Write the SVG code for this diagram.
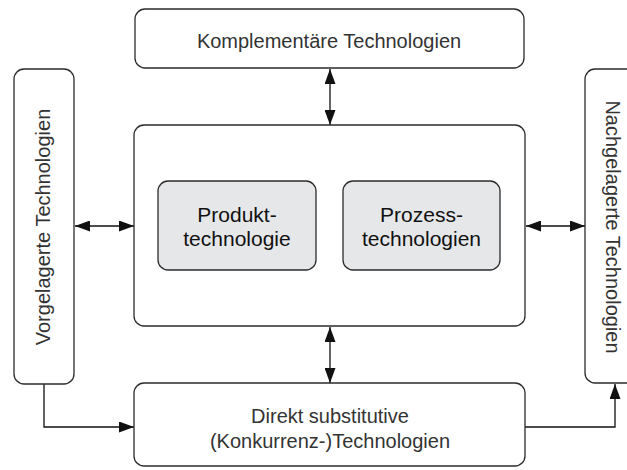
<svg xmlns="http://www.w3.org/2000/svg" width="627" height="470" viewBox="0 0 627 470">
<defs>
<style>
.box{fill:#fff;stroke:#2b2b2b;stroke-width:1.3}
.inner{fill:#e6e7e9;stroke:#2b2b2b;stroke-width:1.3}
.lbl{font-family:"Liberation Sans",Arial,sans-serif;font-size:20px;fill:#333;text-anchor:middle}
.in{font-family:"Liberation Sans",Arial,sans-serif;font-size:21px;fill:#111;text-anchor:middle}
.con{fill:none;stroke:#111;stroke-width:1.3}
</style>
<marker id="ah" viewBox="0 0 15 11" refX="15" refY="5.5" markerWidth="15" markerHeight="11" markerUnits="userSpaceOnUse" orient="auto-start-reverse">
<path d="M0,0 L15,5.5 L0,11 Z" fill="#111"/>
</marker>
</defs>
<g id="connectors">
<line class="con" x1="330" y1="69" x2="330" y2="125" marker-start="url(#ah)" marker-end="url(#ah)"/>
<line class="con" x1="330" y1="327" x2="330" y2="383" marker-start="url(#ah)" marker-end="url(#ah)"/>
<line class="con" x1="75" y1="226" x2="134" y2="226" marker-start="url(#ah)" marker-end="url(#ah)"/>
<line class="con" x1="526" y1="226" x2="585" y2="226" marker-start="url(#ah)" marker-end="url(#ah)"/>
<polyline class="con" points="44,384 44,427 134,427" marker-end="url(#ah)"/>
<polyline class="con" points="525,427 615,427 615,384" marker-end="url(#ah)"/>
</g>
<g id="komplementaer">
<rect class="box" x="135" y="9" width="389" height="59" rx="10"/>
<text class="lbl" x="329" y="48">Komplementäre Technologien</text>
</g>
<g id="vorgelagert">
<rect class="box" x="14" y="69" width="60" height="315" rx="10"/>
<text class="lbl" transform="translate(50,227) rotate(-90)">Vorgelagerte Technologien</text>
</g>
<g id="nachgelagert">
<rect class="box" x="585" y="69" width="60" height="314" rx="10"/>
<text class="lbl" transform="translate(606,227) rotate(90)">Nachgelagerte Technologien</text>
</g>
<g id="zentrum">
<rect class="box" x="134" y="125" width="391" height="201" rx="10"/>
</g>
<g id="produkt">
<rect class="inner" x="158" y="181" width="158" height="89" rx="10"/>
<text class="in" x="237" y="222">Produkt-</text>
<text class="in" x="237" y="246">technologie</text>
</g>
<g id="prozess">
<rect class="inner" x="343" y="181" width="157" height="89" rx="10"/>
<text class="in" x="421.5" y="222">Prozess-</text>
<text class="in" x="421.5" y="246">technologien</text>
</g>
<g id="substitutiv">
<rect class="box" x="134" y="383" width="391" height="83" rx="10"/>
<text class="lbl" x="330" y="423">Direkt substitutive</text>
<text class="lbl" x="330" y="448">(Konkurrenz-)Technologien</text>
</g>
</svg>
